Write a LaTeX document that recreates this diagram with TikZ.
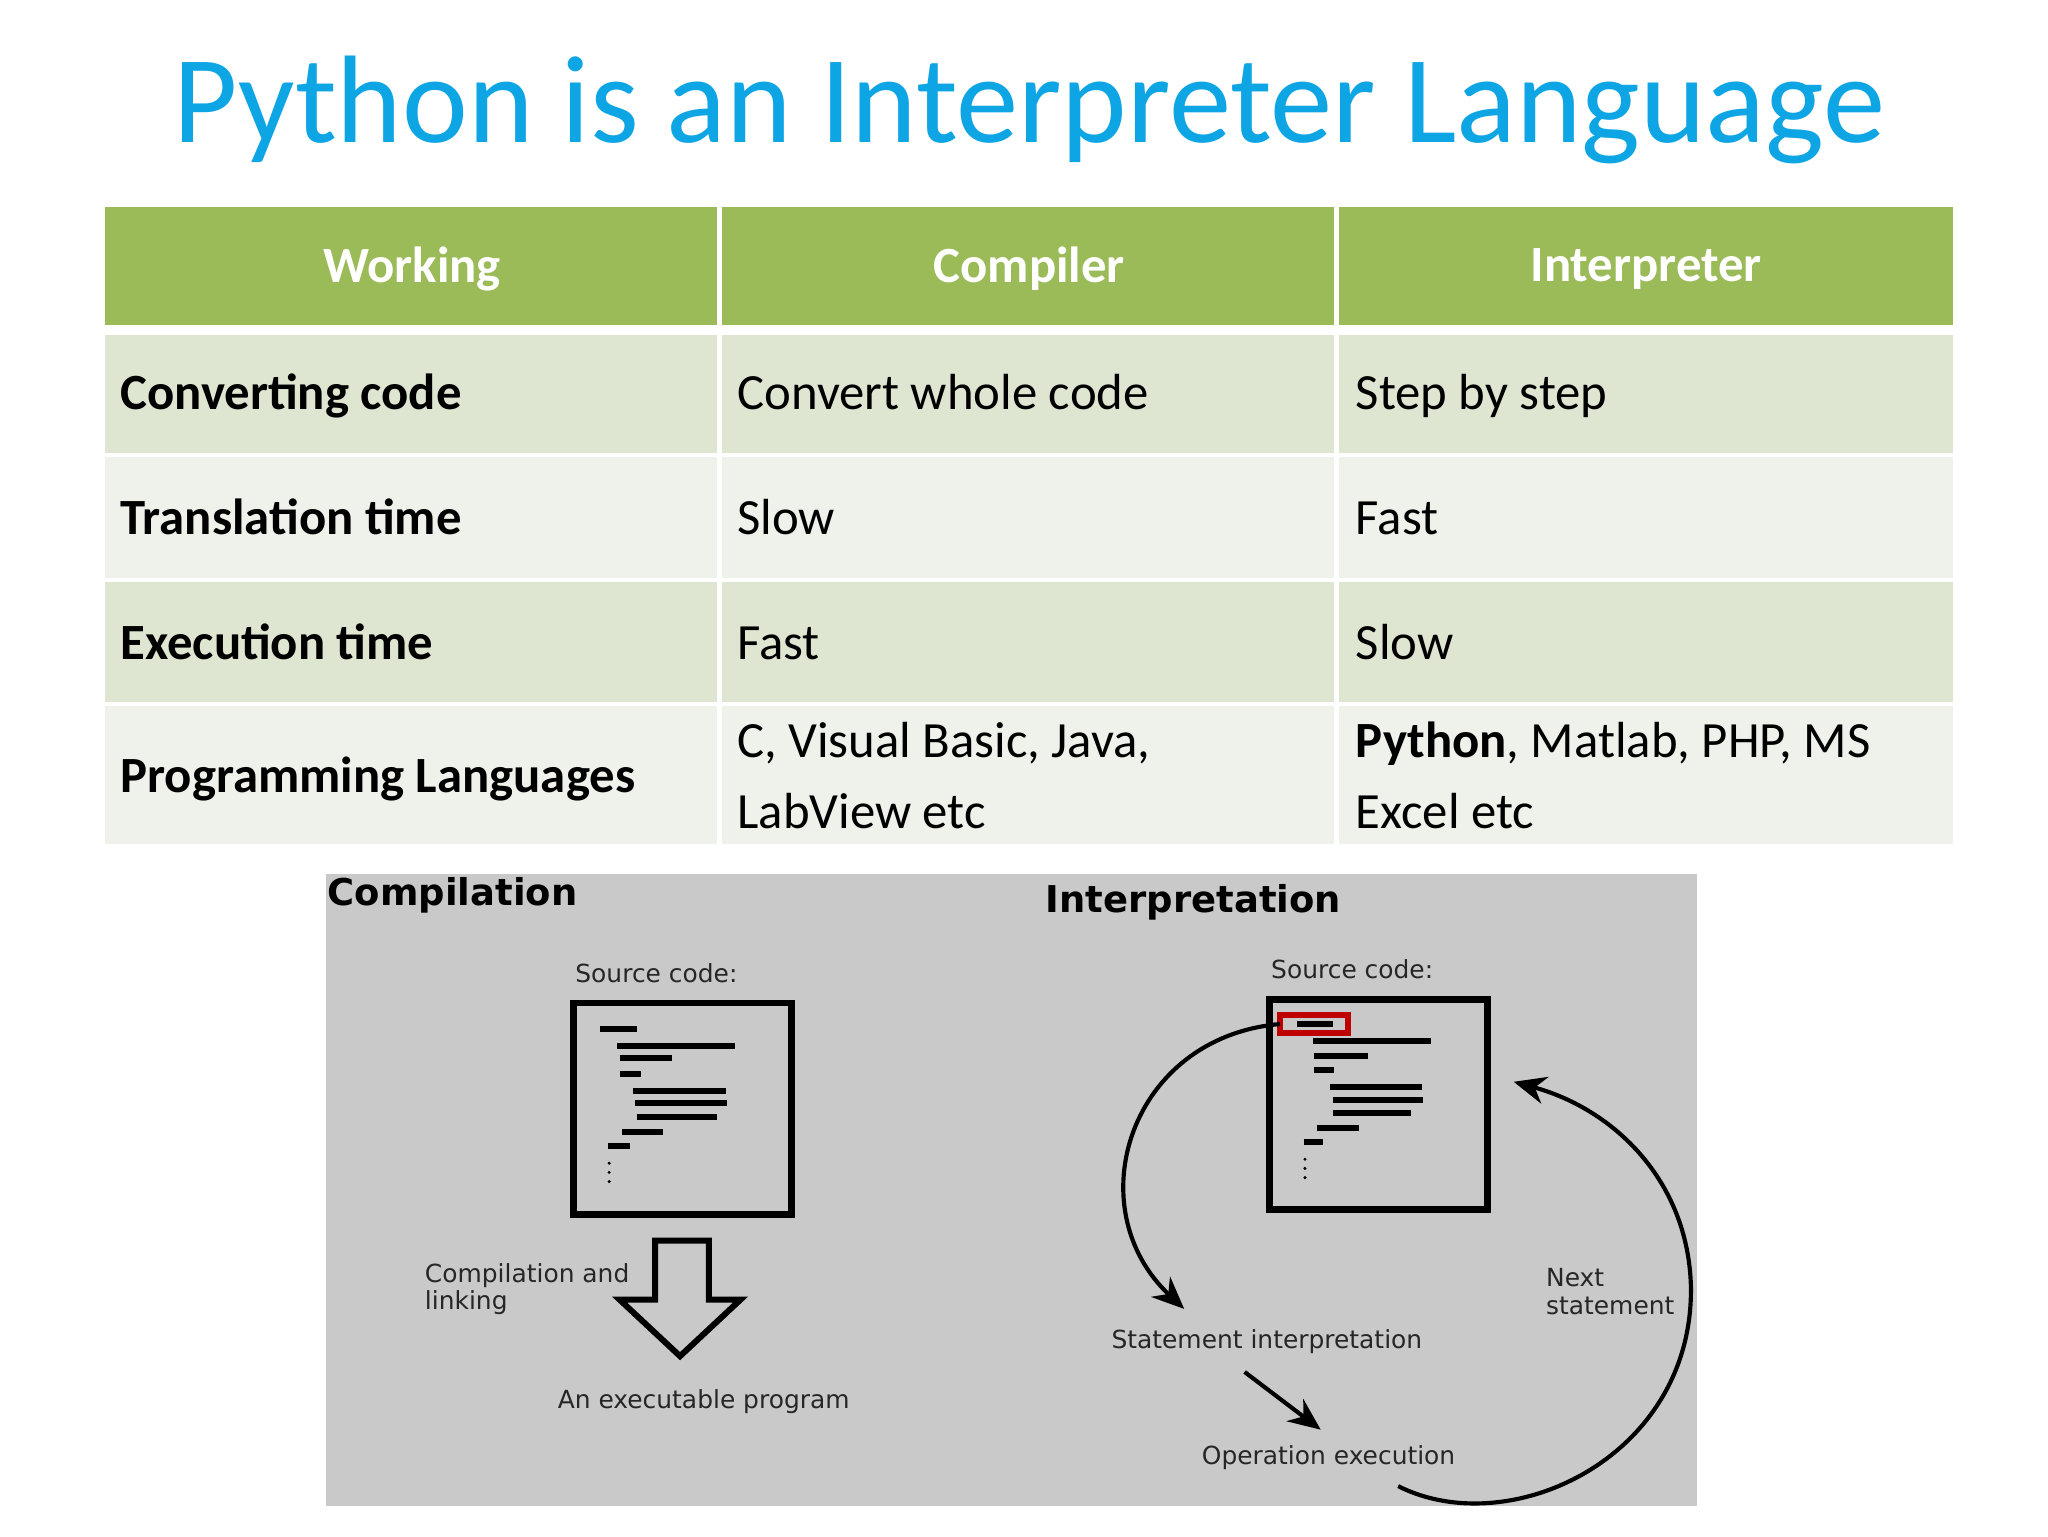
\documentclass[tikz,border=0pt]{standalone}
\usepackage{fontspec}
\setmainfont{Carlito}
\newfontfamily\djv{DejaVu Sans}
\usetikzlibrary{arrows.meta}
\definecolor{ttl}{HTML}{0EA5E4}
\definecolor{hdr}{HTML}{9BBB59}
\definecolor{rowa}{HTML}{DEE6D2}
\definecolor{rowb}{HTML}{EFF2EB}
\definecolor{dgray}{HTML}{C9C9C9}
\begin{document}
\begin{tikzpicture}[x=0.1mm,y=-0.1mm,
  cell/.style={anchor=base west,font=\fontsize{11}{13}\selectfont,inner sep=0},
  hd/.style={font=\bfseries\fontsize{11}{13}\selectfont,text=white,inner sep=0},
  sm/.style={font=\djv\fontsize{5.4}{7}\selectfont,inner sep=0,text=black!85},
  cl/.style={line width=1.3pt},
  arr/.style={line width=0.9pt,-{Stealth[length=7pt,width=6pt]}}]
\useasboundingbox (0,0) rectangle (1560,1170);
\fill[white] (0,0) rectangle (1560,1170);
\node[text=ttl,font=\fontsize{27}{32}\selectfont,inner sep=0] (title) at (784,84) {Python is an Interpreter Language};
% table
\fill[hdr] (80,158) rectangle (1488,248);
\fill[rowa] (80,255) rectangle (1488,345);
\fill[rowb] (80,348) rectangle (1488,440);
\fill[rowa] (80,443) rectangle (1488,535);
\fill[rowb] (80,538) rectangle (1488,643);
\draw[white,line width=1.2pt] (548,158) -- (548,643) (1018,158) -- (1018,643);
\draw[white,line width=2pt] (80,251) -- (1488,251);
\node[hd] (h1) at (314,205) {Working};
\node[hd] (h2) at (784,205) {Compiler};
\node[hd] (h3) at (1254,205) {Interpreter};
\node[cell,font=\bfseries\fontsize{11}{13}\selectfont] (r1) at (91,312) {Converting code};
\node[cell] (r1b) at (561,312) {Convert whole code};
\node[cell] (r1c) at (1032,312) {Step by step};
\node[cell,font=\bfseries\fontsize{11}{13}\selectfont] (r2) at (91,407) {Translation time};
\node[cell] (r2b) at (561,407) {Slow};
\node[cell] (r2c) at (1032,407) {Fast};
\node[cell,font=\bfseries\fontsize{11}{13}\selectfont] (r3) at (91,502) {Execution time};
\node[cell] (r3b) at (561,502) {Fast};
\node[cell] (r3c) at (1032,502) {Slow};
\node[cell,font=\bfseries\fontsize{11}{13}\selectfont] (r4) at (91,604) {Programming Languages};
\node[cell] (r4b) at (561,577) {C, Visual Basic, Java,};
\node[cell] (r4b2) at (561,631) {LabView etc};
\node[cell] (r4c) at (1032,577) {\textbf{Python}, Matlab, PHP, MS};
\node[cell] (r4c2) at (1032,631) {Excel etc};
% diagram
\fill[dgray] (248,666) rectangle (1293,1147);
\node[anchor=west,font=\djv\bfseries\fontsize{8}{10}\selectfont,inner sep=0] (comp) at (249,682) {Compilation};
\node[anchor=west,font=\djv\bfseries\fontsize{8}{10}\selectfont,inner sep=0] (intp) at (796,687) {Interpretation};
\node[sm] (sc1) at (500,741) {Source code:};
\node[sm] (sc2) at (1030,738) {Source code:};
\draw[line width=1.5pt] (437,764) rectangle (603,925);
\draw[line width=1.5pt] (967,761) rectangle (1133,921);
\begin{scope}[cl]
\draw (457,784)--(485,784) (470,797)--(560,797) (472,806)--(512,806) (472,818)--(488,818)
 (482,831)--(553,831) (484,840)--(554,840) (485,851)--(546,851) (474,862)--(505,862) (463,873)--(480,873);
\draw (988,780)--(1015,780) (1000,793)--(1090,793) (1001,804)--(1042,804) (1001,815)--(1016,815)
 (1013,828)--(1083,828) (1015,838)--(1084,838) (1015,848)--(1075,848) (1003,859)--(1035,859) (993,870)--(1008,870);
\end{scope}
\foreach \y in {886,893,900} {\fill (464,\y) circle (1.3); \fill (994,\y-3) circle (1.3);}
\draw[red!75!black,line width=1.3pt] (975,773) rectangle (1027,787);
\coordinate (cs) at (975,780);
% hollow arrow
\draw[line width=1.3pt,fill=dgray] (499,945)--(540,945)--(540,990)--(564,990)--(518,1033)--(472,990)--(499,990)--cycle;
\node[sm,anchor=west,align=left] (cl1) at (323,982) {Compilation and\\[-1pt]linking};
\node[sm] (exe) at (536,1068) {An executable program};
\node[sm] (si) at (965,1022) {Statement interpretation};
\node[sm] (oe) at (1012,1110) {Operation execution};
\node[sm,anchor=west,align=left] (ns) at (1177,984) {Next\\[-1pt]statement};
\coordinate (t1) at (902,997);
\draw[arr] (cs) .. controls (860,790) and (820,920) .. (t1);
\coordinate (a1) at (948,1045); \coordinate (a2) at (1006,1089);
\draw[arr] (a1) -- (a2);
\coordinate (b1) at (1065,1132); \coordinate (b2) at (1153,824);
\draw[arr] (b1) .. controls (1150,1175) and (1290,1110) .. (1288,980) .. controls (1286,900) and (1230,845) .. (b2);
\end{tikzpicture}
\end{document}
